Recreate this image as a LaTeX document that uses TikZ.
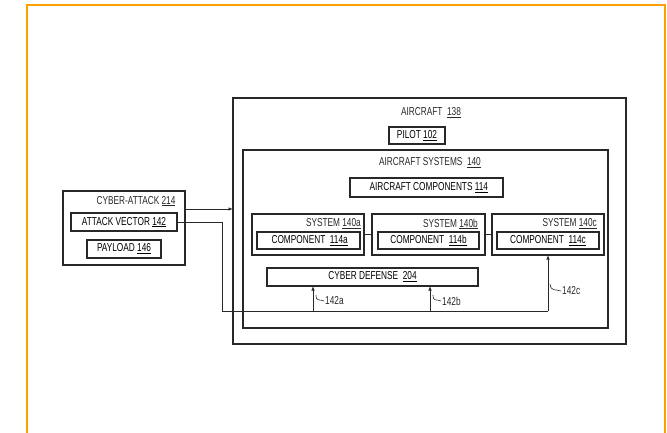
\documentclass[tikz,border=0pt]{standalone}
\usepackage{fontspec}
\newfontfamily\patfont{Liberation Sans}[FakeStretch=0.72]
\usepackage{tikz}
\usetikzlibrary{arrows.meta,positioning,calc}
\usepackage{xcolor}
\definecolor{frameorange}{RGB}{255,158,0}
\definecolor{ink}{RGB}{40,40,40}

\begin{document}
\begin{tikzpicture}[x=1pt, y=-1pt,
  font=\patfont\fontsize{11.5}{13}\selectfont,
  frame/.style={draw=ink, line width=1.3pt, inner sep=0pt, outer sep=0pt},
  box/.style={draw=ink, line width=1.2pt, inner sep=0pt, outer sep=0pt, align=center},
  lbl/.style={text=ink, inner sep=1pt},
  numlbl/.style={text=ink, inner sep=1pt},
  line/.style={draw=ink, line width=0.8pt},
  arr/.style={-{Latex[length=4.5pt,width=3.5pt]}, line width=0.8pt, color=ink},
  lead/.style={draw=ink, line width=0.6pt}]
\useasboundingbox (0,0) rectangle (667,433);
% orange border
\draw[frameorange, line width=2pt] (27,433) -- (27,5) -- (665,5) -- (665,433);
% cyber-attack
\node[frame, minimum width=122pt, minimum height=74pt] (ca) at (124,228) {};
\node[lbl] (catitle) at (136,201) {CYBER-ATTACK \underline{214}};
\node[box, minimum width=106pt, minimum height=18pt] (av) at (124,222) {ATTACK VECTOR \underline{142}};
\node[box, minimum width=74pt, minimum height=18pt] (pay) at (124,249) {PAYLOAD \underline{146}};
% aircraft
\node[frame, minimum width=393pt, minimum height=246pt] (ac) at (429.5,221) {};
\node[lbl] (actitle) at (431,113) {AIRCRAFT \ \underline{138}};
\node[box, minimum width=56pt, minimum height=17pt] (pilot) at (417,135.5) {PILOT \underline{102}};
\node[frame, minimum width=365pt, minimum height=178pt] (sys) at (425.5,239) {};
\node[lbl] (systitle) at (430,163) {AIRCRAFT SYSTEMS \ \underline{140}};
\node[box, minimum width=153pt, minimum height=19pt] (comps) at (426.5,187.5) {\ \ AIRCRAFT COMPONENTS \underline{114}};
% systems row
\node[frame, minimum width=112pt, minimum height=41pt] (sysa) at (308,234.5) {};
\node[frame, minimum width=113pt, minimum height=41pt] (sysb) at (428.5,234.5) {};
\node[frame, minimum width=112pt, minimum height=41pt] (sysc) at (548,234.5) {};
\node[lbl, anchor=east] (sysatitle) at (362,224) {SYSTEM \underline{140a}};
\node[lbl, anchor=east] (sysbtitle) at (479,224) {SYSTEM \underline{140b}};
\node[lbl, anchor=east] (sysctitle) at (598,224) {SYSTEM \underline{140c}};
\node[box, minimum width=103pt, minimum height=17pt] (compa) at (308.5,240.5) {\ COMPONENT \ \underline{114a}};
\node[box, minimum width=101pt, minimum height=17pt] (compb) at (428.5,240.5) {COMPONENT \ \underline{114b}};
\node[box, minimum width=102pt, minimum height=17pt] (compc) at (548,240.5) {COMPONENT \ \underline{114c}};
\node[box, minimum width=211pt, minimum height=18pt] (def) at (372.5,277) {CYBER DEFENSE \ \underline{204}};
% links
\draw[line] (sysa) -- (sysb);
\draw[line] (sysb) -- (sysc);
\draw[arr] ([yshift=19pt]ca.east) -- ([yshift=19pt]ca.east -| ac.west);
% attack vector paths
\coordinate (jl) at (222,311);
\coordinate (ja) at (313,311);
\coordinate (jb) at (430,311);
\coordinate (jc) at (548,311);
\draw[line] (av.east) -| (jl) -- (jc);
\draw[arr] (ja) -- (ja |- def.south);
\draw[arr] (jb) -- (jb |- def.south);
\draw[arr] (jc) -- (jc |- sysc.south);
% reference labels
\node[numlbl, anchor=west] (l142a) at (324,301) {142a};
\node[numlbl, anchor=west] (l142b) at (441,301) {142b};
\node[numlbl, anchor=west] (l142c) at (561,291) {142c};
\draw[lead] (316,295) .. controls (316,302) and (320,299) .. (l142a.west);
\draw[lead] (433,295) .. controls (433,302) and (437,299) .. (l142b.west);
\draw[lead] (550,284) .. controls (551,292) and (556,289) .. (l142c.west);
\end{tikzpicture}
\end{document}
